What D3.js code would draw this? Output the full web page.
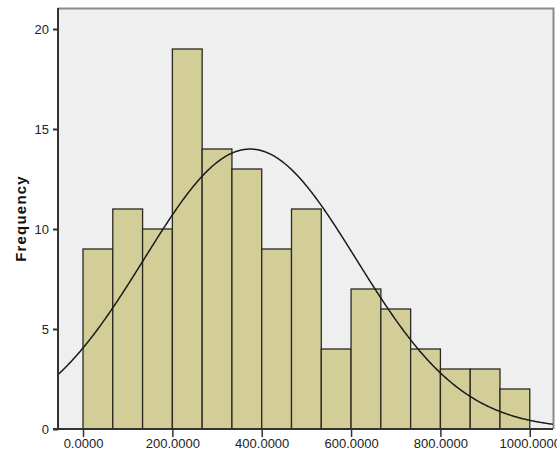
<!DOCTYPE html>
<html>
<head>
<meta charset="utf-8">
<script src="https://cdn.jsdelivr.net/npm/d3@7"></script>
<style>
  body { margin: 0; background: #ffffff; }
  svg { display: block; font-family: "Liberation Sans", Arial, sans-serif; }
</style>
</head>
<body>
<svg id="chart" width="557" height="455"></svg>
<script>
// Histogram bins: lower edges, bin width and counts
const binStarts = [0, 66.667, 133.333, 200, 266.667, 333.333, 400, 466.667, 533.333, 600, 666.667, 733.333, 800, 866.667, 933.333];
const binWidth = 66.667;
const counts = [9, 11, 10, 19, 14, 13, 9, 11, 4, 7, 6, 4, 3, 3, 2];

// Axis ticks
const xTicks = [0, 200, 400, 600, 800, 1000];
const yTicks = [0, 5, 10, 15, 20];

// Fitted normal curve parameters
const fitMean = 374;
const fitSd = 237.5;

const svg = d3.select("#chart");
const plot = { left: 58, top: 8, right: 553, bottom: 429 };

const x = d3.scaleLinear().domain([-56, 1052]).range([plot.left, plot.right]);
const y = d3.scaleLinear().domain([0, 21]).range([plot.bottom, plot.bottom - 21 * 20]);

// Plot background
svg.append("rect")
  .attr("x", plot.left).attr("y", plot.top)
  .attr("width", plot.right - plot.left).attr("height", plot.bottom - plot.top)
  .attr("fill", "#efefef");

// Frame: top and right edges in grey
svg.append("path")
  .attr("d", `M${plot.left},${plot.top + 0.5}H${plot.right + 0.5}V${plot.bottom}`)
  .attr("fill", "none").attr("stroke", "#8a8a8a").attr("stroke-width", 2);

// Bars
const bins = binStarts.map((s, i) => ({ x0: s, x1: s + binWidth, n: counts[i] }));
svg.append("g").selectAll("rect").data(bins).join("rect")
  .attr("x", d => x(d.x0))
  .attr("y", d => y(d.n))
  .attr("width", d => x(d.x1) - x(d.x0))
  .attr("height", d => y(0) - y(d.n))
  .attr("fill", "#d3ce97")
  .attr("stroke", "#2a2a22")
  .attr("stroke-width", 1.3);

// Normal density scaled to counts
const total = d3.sum(counts);
const density = v => total * binWidth / (fitSd * Math.sqrt(2 * Math.PI)) *
  Math.exp(-0.5 * Math.pow((v - fitMean) / fitSd, 2));
const curvePts = d3.range(-56, 1052.5, 2).map(v => [v, density(v)]);
svg.append("path")
  .datum(curvePts)
  .attr("d", d3.line().x(d => x(d[0])).y(d => y(d[1])).curve(d3.curveBasis))
  .attr("fill", "none")
  .attr("stroke", "#1a1a1a")
  .attr("stroke-width", 1.5);

// Y axis
const yAxis = svg.append("g")
  .attr("transform", `translate(${plot.left},0)`)
  .call(d3.axisLeft(y).tickValues(yTicks).tickSize(5).tickPadding(4).tickFormat(d3.format("d")));
yAxis.select(".domain").attr("stroke", "#333").attr("stroke-width", 2)
  .attr("d", `M0,${plot.top}V${plot.bottom}`);
yAxis.selectAll(".tick line").attr("stroke", "#333").attr("stroke-width", 2);
yAxis.selectAll(".tick text").attr("font-size", 13).attr("fill", "#222")
  .attr("font-family", "Liberation Sans, Arial, sans-serif");

// X axis
const xAxis = svg.append("g")
  .attr("transform", `translate(0,${plot.bottom})`)
  .call(d3.axisBottom(x).tickValues(xTicks).tickSize(8).tickPadding(2).tickFormat(d3.format(".4f")));
xAxis.select(".domain").attr("stroke", "#333").attr("stroke-width", 2)
  .attr("d", `M${plot.left - 5},0H${plot.right}`);
xAxis.selectAll(".tick line").attr("stroke", "#333").attr("stroke-width", 1.5);
xAxis.selectAll(".tick text").attr("font-size", 13).attr("fill", "#222")
  .attr("font-family", "Liberation Sans, Arial, sans-serif");

// Y axis title
svg.append("text")
  .attr("transform", `translate(26,${(plot.top + plot.bottom) / 2}) rotate(-90)`)
  .attr("text-anchor", "middle")
  .attr("font-size", 15)
  .attr("font-weight", "bold")
  .attr("letter-spacing", 1.2)
  .attr("fill", "#111")
  .text("Frequency");
</script>
</body>
</html>
